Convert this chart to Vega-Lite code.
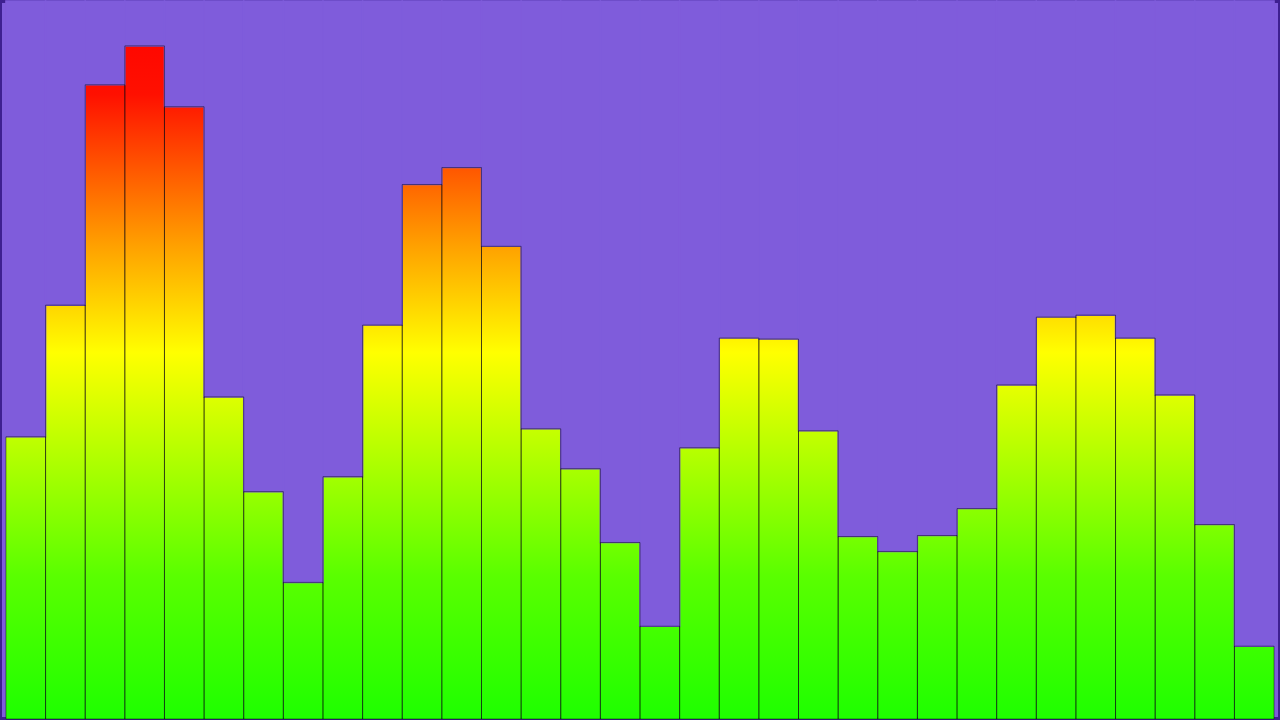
{
  "$schema": "https://vega.github.io/schema/vega-lite/v6.json",
  "width": 1280,
  "height": 720,
  "autosize": {"type": "fit", "contains": "padding"},
  "padding": 0,
  "background": "#7F5CDB",
  "config": {"view": {"stroke": "#3E2090", "strokeWidth": 4, "fill": "#7F5CDB"}},
  "data": {
    "values": [
      {"band": 1, "level": 283},
      {"band": 2, "level": 415},
      {"band": 3, "level": 636},
      {"band": 4, "level": 675},
      {"band": 5, "level": 614},
      {"band": 6, "level": 323},
      {"band": 7, "level": 228},
      {"band": 8, "level": 137},
      {"band": 9, "level": 243},
      {"band": 10, "level": 395},
      {"band": 11, "level": 536},
      {"band": 12, "level": 553},
      {"band": 13, "level": 474},
      {"band": 14, "level": 291},
      {"band": 15, "level": 251},
      {"band": 16, "level": 177},
      {"band": 17, "level": 93},
      {"band": 18, "level": 272},
      {"band": 19, "level": 382},
      {"band": 20, "level": 381},
      {"band": 21, "level": 289},
      {"band": 22, "level": 183},
      {"band": 23, "level": 168},
      {"band": 24, "level": 184},
      {"band": 25, "level": 211},
      {"band": 26, "level": 335},
      {"band": 27, "level": 403},
      {"band": 28, "level": 405},
      {"band": 29, "level": 382},
      {"band": 30, "level": 325},
      {"band": 31, "level": 195},
      {"band": 32, "level": 73}
    ]
  },
  "encoding": {
    "x": {
      "field": "band",
      "type": "ordinal",
      "scale": {"paddingInner": 0, "paddingOuter": 0.15},
      "axis": null
    }
  },
  "layer": [
    {
      "mark": {
        "type": "bar",
        "strokeWidth": 0,
        "fill": {
          "gradient": "linear",
          "x1": 0, "y1": 1, "x2": 0, "y2": 0,
          "stops": [
            {"offset": 0, "color": "#1EFF00"},
            {"offset": 0.2, "color": "#5AFF00"},
            {"offset": 0.51, "color": "#FFFF00"},
            {"offset": 0.66, "color": "#FFA000"},
            {"offset": 0.87, "color": "#FF1000"},
            {"offset": 1, "color": "#FF0000"}
          ]
        }
      },
      "encoding": {
        "y": {"datum": 720, "type": "quantitative", "scale": {"domain": [0, 720], "nice": false, "zero": true}, "axis": null}
      }
    },
    {
      "mark": {"type": "bar", "fill": "#7F5CDB", "stroke": "#7F5CDB", "strokeWidth": 1.5},
      "encoding": {
        "y": {"field": "level", "type": "quantitative"},
        "y2": {"datum": 720}
      }
    },
    {
      "mark": {"type": "bar", "fillOpacity": 0, "stroke": "#000000", "strokeOpacity": 0.45, "strokeWidth": 1},
      "encoding": {
        "y": {"field": "level", "type": "quantitative"}
      }
    }
  ]
}
